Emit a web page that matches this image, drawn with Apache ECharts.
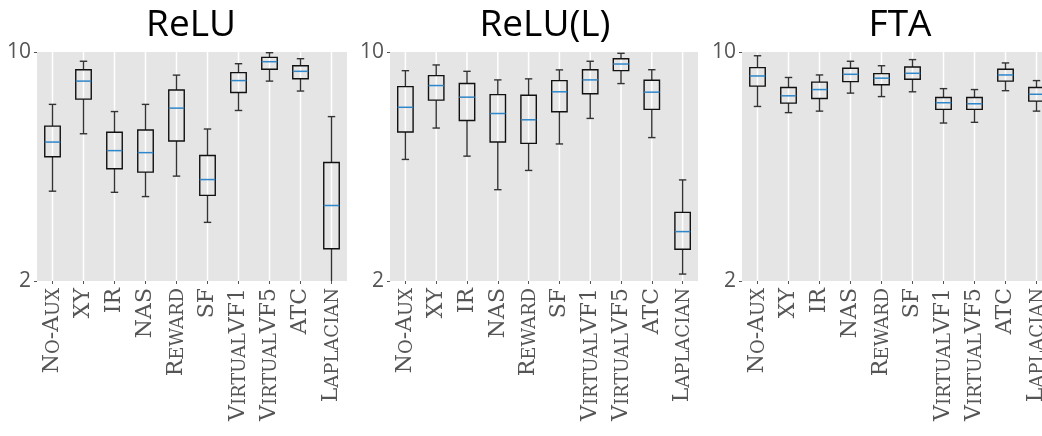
<!DOCTYPE html>
<html>
<head>
<meta charset="utf-8">
<title>Boxplots</title>
<script src="https://cdn.jsdelivr.net/npm/echarts@6.0.0/dist/echarts.min.js"></script>
<style>
  html, body { margin: 0; padding: 0; background: #fff; }
  #chart { width: 1042px; height: 436px; }
</style>
</head>
<body>
<div id="chart"></div>
<script>
var categories = ['No-Aux', 'XY', 'IR', 'NAS', 'Reward', 'SF', 'VirtualVF1', 'VirtualVF5', 'ATC', 'Laplacian'];
var panelTitles = ['ReLU', 'ReLU(L)', 'FTA'];
var yTicks = [2, 10];

// each row: [low whisker, q1, median, q3, high whisker]
var reluStats = [
    [3.76, 4.79, 5.31, 5.94, 6.92],
    [5.63, 7.18, 8.15, 8.83, 9.37],
    [3.73, 4.40, 5.00, 5.69, 6.58],
    [3.62, 4.30, 4.93, 5.78, 6.92],
    [4.18, 5.35, 6.74, 7.66, 8.50],
    [3.02, 3.65, 4.08, 4.83, 5.82],
    [6.63, 7.52, 8.18, 8.65, 9.21],
    [8.15, 8.86, 9.34, 9.63, 9.95],
    [7.60, 8.29, 8.73, 9.08, 9.54],
    [1.90, 2.51, 3.40, 4.60, 6.35]
];
var reluLStats = [
    [4.70, 5.70, 6.78, 7.84, 8.77],
    [5.86, 7.13, 7.90, 8.47, 9.13],
    [4.81, 6.18, 7.28, 8.01, 8.73],
    [3.80, 5.31, 6.49, 7.41, 8.22],
    [4.35, 5.26, 6.21, 7.38, 8.28],
    [5.24, 6.57, 7.56, 8.18, 8.82],
    [6.27, 7.46, 8.22, 8.83, 9.37],
    [8.01, 8.77, 9.19, 9.54, 9.91],
    [5.48, 6.68, 7.54, 8.20, 8.83],
    [2.10, 2.50, 2.83, 3.24, 4.07]
];
var ftaStats = [
    [6.82, 7.87, 8.45, 8.96, 9.74],
    [6.53, 6.98, 7.35, 7.79, 8.36],
    [6.60, 7.21, 7.68, 8.09, 8.51],
    [7.49, 8.12, 8.55, 8.92, 9.37],
    [7.31, 7.94, 8.32, 8.59, 9.08],
    [7.56, 8.26, 8.61, 9.00, 9.48],
    [6.07, 6.68, 7.00, 7.26, 7.73],
    [6.10, 6.68, 6.95, 7.26, 7.68],
    [7.62, 8.15, 8.51, 8.86, 9.26],
    [6.60, 7.08, 7.43, 7.79, 8.18]
];

var chart = echarts.init(document.getElementById('chart'));

// small caps: lower case letters become smaller capitals
function smallCaps(name) {
    var out = '';
    var run = '';
    var runSmall = null;
    for (var i = 0; i < name.length; i++) {
        var ch = name.charAt(i);
        var isSmall = ch >= 'a' && ch <= 'z';
        if (runSmall !== null && isSmall !== runSmall) {
            out += '{' + (runSmall ? 's' : 'b') + '|' + run + '}';
            run = '';
        }
        run += ch.toUpperCase();
        runSmall = isSmall;
    }
    if (run) out += '{' + (runSmall ? 's' : 'b') + '|' + run + '}';
    return out;
}

function renderBox(params, api) {
    var cs = params.coordSys;
    var band = cs.width / categories.length;
    var idx = api.value(0);
    var x = api.coord([idx, 10])[0];
    var yLo = api.coord([idx, api.value(1)])[1];
    var yQ1 = api.coord([idx, api.value(2)])[1];
    var yMed = api.coord([idx, api.value(3)])[1];
    var yQ3 = api.coord([idx, api.value(4)])[1];
    var yHi = api.coord([idx, api.value(5)])[1];
    var half = band * 0.25;
    var cap = band * 0.12;
    var whisk = { stroke: '#333', lineWidth: 1.4 };
    return {
        type: 'group',
        children: [
            { type: 'line', shape: { x1: x, y1: cs.y, x2: x, y2: cs.y + cs.height }, style: { stroke: '#fff', lineWidth: 1.5 } },
            { type: 'line', shape: { x1: x, y1: yQ1, x2: x, y2: yLo }, style: whisk },
            { type: 'line', shape: { x1: x, y1: yQ3, x2: x, y2: yHi }, style: whisk },
            { type: 'line', shape: { x1: x - cap, y1: yLo, x2: x + cap, y2: yLo }, style: whisk },
            { type: 'line', shape: { x1: x - cap, y1: yHi, x2: x + cap, y2: yHi }, style: whisk },
            { type: 'rect', shape: { x: x - half, y: yQ3, width: half * 2, height: yQ1 - yQ3 }, style: { fill: 'none', stroke: '#111', lineWidth: 1.4 } },
            { type: 'line', shape: { x1: x - half, y1: yMed, x2: x + half, y2: yMed }, style: { stroke: '#2f86c8', lineWidth: 1.5 } }
        ]
    };
}

var panelStats = [reluStats, reluLStats, ftaStats];
var panelLeft = [37, 390, 742];
var panelWidth = [310, 308, 310];

var grids = [], xAxes = [], yAxes = [], seriesList = [], titles = [];
for (var p = 0; p < 3; p++) {
    grids.push({
        left: panelLeft[p], top: 52, width: panelWidth[p], height: 229,
        outerBoundsMode: 'none', containLabel: false,
        show: true, backgroundColor: '#e5e5e5', borderWidth: 0
    });
    titles.push({
        text: panelTitles[p],
        left: [186, 540, 895][p],
        top: 2,
        textAlign: 'center',
        textStyle: { fontFamily: 'Open Sans', fontSize: 37, fontWeight: 'normal', color: '#000' }
    });
    xAxes.push({
        type: 'category', gridIndex: p, data: categories,
        axisLine: { show: false },
        axisTick: { show: true, alignWithLabel: true, length: 3, lineStyle: { color: '#555' } },
        splitLine: { show: false },
        axisLabel: {
            rotate: 90, margin: 7, interval: 0, color: '#555',
            formatter: function (v) { return smallCaps(v); },
            rich: {
                b: { fontFamily: 'DejaVu Serif', fontSize: 22, lineHeight: 22, color: '#555', verticalAlign: 'bottom' },
                s: { fontFamily: 'DejaVu Serif', fontSize: 18, lineHeight: 18, color: '#555', verticalAlign: 'bottom' }
            }
        }
    });
    yAxes.push({
        type: 'log', gridIndex: p, logBase: 10, min: 2, max: 10,
        axisLine: { show: false },
        axisTick: { show: true, length: 3, customValues: yTicks, lineStyle: { color: '#555' } },
        splitLine: { show: false },
        minorTick: { show: false },
        axisLabel: { customValues: yTicks, margin: 6, color: '#555', fontFamily: 'Open Sans', fontSize: 21 }
    });
    var rows = [];
    var stats = panelStats[p];
    for (var i = 0; i < stats.length; i++) {
        rows.push([i].concat(stats[i]));
    }
    seriesList.push({
        type: 'custom', xAxisIndex: p, yAxisIndex: p,
        renderItem: renderBox, clip: true,
        encode: { x: 0, y: [1, 2, 3, 4, 5] },
        data: rows
    });
}

chart.setOption({
    animation: false,
    title: titles,
    grid: grids,
    xAxis: xAxes,
    yAxis: yAxes,
    series: seriesList
});
</script>
</body>
</html>
